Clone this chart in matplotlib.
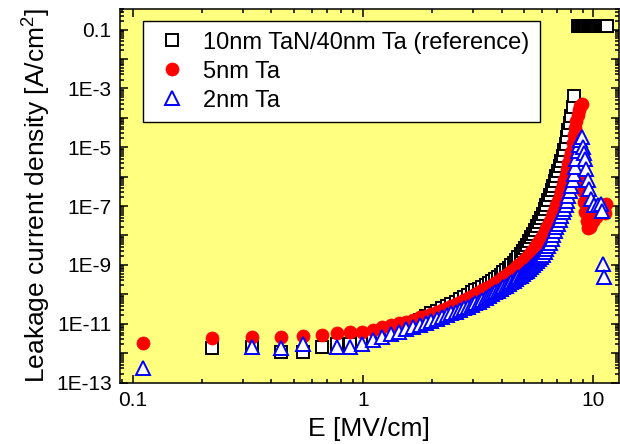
import numpy as np
import matplotlib
matplotlib.use('Agg')
import matplotlib.pyplot as plt
from matplotlib.ticker import FixedLocator, FixedFormatter, LogLocator, NullFormatter

nan = np.nan

# field sweep [MV/cm], one step every 0.11 MV/cm
e_sweep = [0.11, 0.22, 0.33, 0.44, 0.55, 0.66, 0.77, 0.88, 0.99, 1.10,
           1.21, 1.32, 1.43, 1.54, 1.65, 1.76, 1.87, 1.98, 2.09, 2.20,
           2.31, 2.42, 2.53, 2.64, 2.75, 2.86, 2.97, 3.08, 3.19, 3.30,
           3.41, 3.52, 3.63, 3.74, 3.85, 3.96, 4.07, 4.18, 4.29, 4.40,
           4.51, 4.62, 4.73, 4.84, 4.95, 5.06, 5.17, 5.28, 5.39, 5.50,
           5.61, 5.72, 5.83, 5.94, 6.05, 6.16, 6.27, 6.38, 6.49, 6.60,
           6.71, 6.82, 6.93, 7.04, 7.15, 7.26, 7.37, 7.48, 7.59, 7.70,
           7.81, 7.92, 8.03, 8.14, 8.25, 8.36, 8.47, 8.58, 8.69, 8.80,
           8.91]

# log10 of leakage current density [A/cm2]
ref_log = [nan, -11.84, -11.78, -11.95, -11.95, -11.78, -11.68, -11.68, -11.60, -11.50,
           -11.40, -11.29, -11.19, -11.08, -10.97, -10.86, -10.75, -10.64, -10.56, -10.48,
           -10.40, -10.33, -10.25, -10.17, -10.10, -10.02, -9.94, -9.87, -9.81, -9.74,
           -9.67, -9.61, -9.54, -9.47, -9.40, -9.33, -9.25, -9.17, -9.10, -9.02,
           -8.94, -8.84, -8.74, -8.64, -8.54, -8.43, -8.31, -8.19, -8.07, -7.95,
           -7.81, -7.68, -7.54, -7.40, -7.26, -7.10, -6.95, -6.79, -6.63, -6.47,
           -6.31, -6.15, -5.98, -5.82, -5.64, -5.46, -5.29, -5.11, -4.89, -4.65,
           -4.41, -4.17, -3.95, -3.62, -3.25, nan, nan, nan, nan, nan,
           nan]

ta5_log = [-11.67, -11.50, -11.44, -11.44, -11.41, -11.37, -11.33, -11.30, -11.27, -11.20,
           -11.13, -11.06, -10.99, -10.93, -10.86, -10.79, -10.73, -10.66, -10.60, -10.53,
           -10.46, -10.40, -10.33, -10.27, -10.20, -10.13, -10.07, -10.00, -9.94, -9.87,
           -9.80, -9.74, -9.67, -9.61, -9.54, -9.47, -9.41, -9.34, -9.27, -9.21,
           -9.14, -9.08, -9.01, -8.95, -8.88, -8.81, -8.73, -8.65, -8.58, -8.50,
           -8.40, -8.30, -8.20, -8.10, -8.00, -7.87, -7.75, -7.63, -7.51, -7.38,
           -7.24, -7.10, -6.97, -6.82, -6.65, -6.48, -6.30, -6.13, -5.94, -5.74,
           -5.54, -5.34, -5.15, -4.85, -4.60, -4.35, -4.12, -3.90, -3.72, -3.60,
           -3.52]

ta2_log = [-12.52, nan, -11.81, -11.84, -11.68, nan, -11.81, -11.81, -11.68, -11.57,
           -11.45, -11.36, -11.27, -11.18, -11.11, -11.04, -10.97, -10.90, -10.83, -10.77,
           -10.71, -10.65, -10.59, -10.53, -10.47, -10.42, -10.36, -10.31, -10.25, -10.19,
           -10.12, -10.06, -10.00, -9.94, -9.88, -9.82, -9.76, -9.71, -9.65, -9.60,
           -9.54, -9.49, -9.43, -9.38, -9.32, -9.26, -9.20, -9.13, -9.07, -9.00,
           -8.93, -8.87, -8.80, -8.74, -8.65, -8.55, -8.45, -8.35, -8.25, -8.13,
           -8.00, -7.85, -7.72, -7.60, -7.47, -7.35, -7.22, -7.09, -6.96, -6.82,
           -6.67, -6.50, -6.32, -6.12, -5.90, -5.66, -5.40, -5.14, -4.92, -4.76,
           -4.66]

# after breakdown
ref_comp_e = [8.58, 8.69, 8.80, 8.91, 9.02, 9.13, 9.24, 9.35, 9.46, 9.57,
              9.68, 9.79, 9.90, 10.01, 10.12, 10.23, 10.34, 10.45, 10.56, 10.67,
              10.78, 10.89, 11.00, 11.11, 11.22, 11.33, 11.44]
ref_comp_j = [0.13, 0.13, 0.13, 0.13, 0.13, 0.13, 0.13, 0.13, 0.13, 0.13,
              0.13, 0.13, 0.13, 0.13, 0.13, 0.13, 0.13, 0.13, 0.13, 0.13,
              0.13, 0.13, 0.13, 0.13, 0.13, 0.13, 0.13]

ta5_bd_e = [9.00, 9.08, 9.16, 9.26, 9.38, 9.50, 9.65, 9.82, 10.0, 10.25,
            10.5, 10.8, 11.1, 11.35, 11.25]
ta5_bd_log = [-6.15, -6.50, -6.85, -7.20, -7.50, -7.75, -7.72, -7.60, -7.50, -7.38,
              -7.22, -7.08, -6.97, -6.92, -7.25]

ta2_bd_e = [9.02, 9.15, 9.26, 9.33, 9.48, 9.64, 9.80, 10.13, 10.5, 10.85,
            10.95, 11.05, 11.15]
ta2_bd_log = [-5.00, -5.20, -5.39, -5.73, -6.13, -6.42, -6.76, -6.98, -6.95, -6.92,
              -7.16, -8.96, -9.42]

labels = ['10nm TaN/40nm Ta (reference)', '5nm Ta', '2nm Ta']

plt.rcParams['font.family'] = ['Liberation Sans', 'DejaVu Sans']
plt.rcParams['mathtext.default'] = 'regular'

fig = plt.figure(figsize=(6.2, 4.44), dpi=100)
ax = fig.add_axes([120 / 620, 1 - 382.5 / 444, 498.5 / 620, 373.5 / 444])
ax.set_facecolor('#FFFF80')

sq = dict(marker='s', ms=8.3, mfc='white', mec='black', mew=1.4, ls='none')
ci = dict(marker='o', ms=9.4, mfc='#FF0000', mec='#FF0000', mew=0.5, ls='none')
tr = dict(marker='^', ms=10, mfc='white', mec='#0000FF', mew=1.4, ls='none')

e = np.array(e_sweep)
ax.plot(e, np.power(10.0, ref_log), label=labels[0], **sq)
ax.plot(ref_comp_e, ref_comp_j, **sq)
ax.plot(e, np.power(10.0, ta5_log), label=labels[1], **ci)
ax.plot(ta5_bd_e, np.power(10.0, ta5_bd_log), **ci)
ax.plot(e, np.power(10.0, ta2_log), label=labels[2], **tr)
ax.plot(ta2_bd_e, np.power(10.0, ta2_bd_log), **tr)

ax.set_xscale('log')
ax.set_yscale('log')
ax.set_xlim(0.0878, 12.9)
ax.set_ylim(1e-13, 0.5)

# y: major tick each decade, label every second one
yt = [10.0 ** p for p in range(-13, 0)]
ylab = []
for p in range(-13, 0):
    if p == -1:
        ylab.append('0.1')
    elif (p + 13) % 2 == 0:
        ylab.append('1E%d' % p)
    else:
        ylab.append('')
ax.yaxis.set_major_locator(FixedLocator(yt))
ax.yaxis.set_major_formatter(FixedFormatter(ylab))
ax.yaxis.set_minor_locator(LogLocator(base=10, subs=np.arange(2, 10), numticks=30))
ax.yaxis.set_minor_formatter(NullFormatter())

ax.xaxis.set_major_locator(FixedLocator([0.1, 1, 10]))
ax.xaxis.set_major_formatter(FixedFormatter(['0.1', '1', '10']))
ax.xaxis.set_minor_locator(LogLocator(base=10, subs=np.arange(2, 10), numticks=30))
ax.xaxis.set_minor_formatter(NullFormatter())

ax.tick_params(which='both', direction='in', top=True, right=True, width=1.1)
ax.tick_params(which='major', length=5.5, labelsize=15, pad=6)
ax.tick_params(which='minor', length=3)
for s in ax.spines.values():
    s.set_linewidth(1.1)

ax.set_xlabel('E [MV/cm]', fontsize=19, labelpad=5)
ax.set_ylabel('Leakage current density [A/cm$^2$]', fontsize=19, labelpad=2)

leg = ax.legend(loc='upper left', bbox_to_anchor=(0.046, 0.968), borderaxespad=0,
                fontsize=17, frameon=True, fancybox=False, framealpha=1,
                edgecolor='black', handlelength=1.56, handletextpad=0.53,
                labelspacing=0.3, borderpad=0.45, numpoints=1)
leg.get_frame().set_linewidth(1.0)

fig.savefig('out.png', dpi=100)
